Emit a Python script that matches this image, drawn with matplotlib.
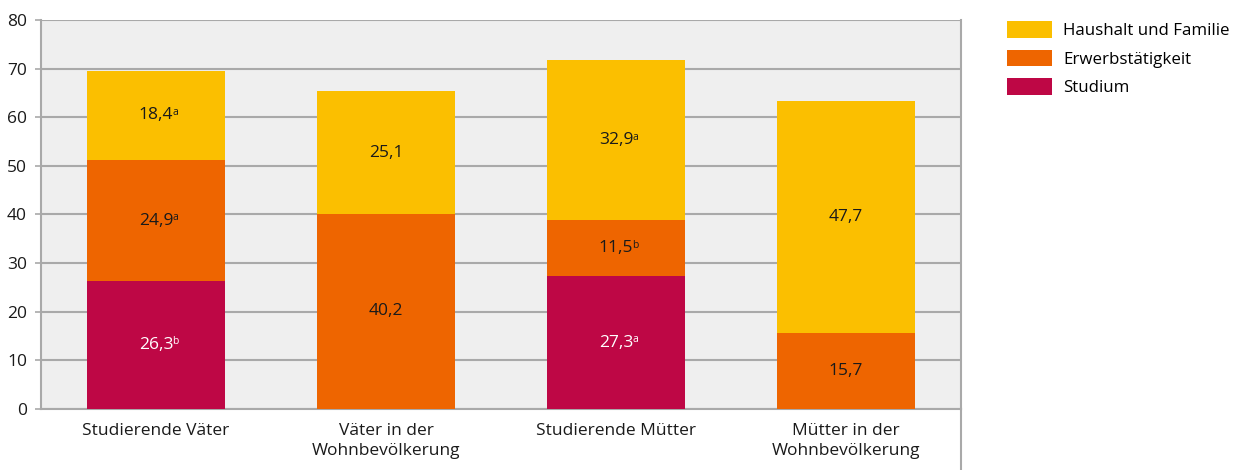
import matplotlib.pyplot as plt
from matplotlib.patches import Patch
from matplotlib.lines import Line2D
import numpy as np

plt.rcParams["font.family"] = ["Open Sans", "DejaVu Sans"]

# ---- data ----
categories = ["Studierende Väter", "Väter in der\nWohnbevölkerung",
              "Studierende Mütter", "Mütter in der\nWohnbevölkerung"]
studium = [26.3, 0.0, 27.3, 0.0]
erwerb = [24.9, 40.2, 11.5, 15.7]
haushalt = [18.4, 25.1, 32.9, 47.7]
sup_studium = ["b", "", "a", ""]
sup_erwerb = ["a", "", "b", ""]
sup_haushalt = ["a", "", "a", ""]

series_names = ["Studium", "Erwerbstätigkeit", "Haushalt und Familie"]
colors = ["#BE0745", "#EE6500", "#FBBF00"]
text_colors = ["white", "#1a1a1a", "#1a1a1a"]
grid_col = "#a9a9a9"

fig = plt.figure(figsize=(12.34, 4.70), dpi=100)
ax = fig.add_axes([41 / 1234, 1 - 409 / 470, 920 / 1234, 389 / 470])
ax.set_facecolor("#efefef")

x = np.arange(len(categories))
bottom = np.zeros(len(categories))
for vals, sups, col, tcol in zip([studium, erwerb, haushalt],
                                 [sup_studium, sup_erwerb, sup_haushalt],
                                 colors, text_colors):
    vals = np.array(vals)
    ax.bar(x, vals, 0.6, bottom=bottom, color=col, zorder=3)
    for xi, v, b, s in zip(x, vals, bottom, sups):
        if v <= 0:
            continue
        label = f"{v:.1f}".replace(".", ",")
        t = ax.text(xi, b + v / 2, label, ha="center", va="center",
                    fontsize=12.5, color=tcol, zorder=4)
        if s:
            ax.annotate(s, xy=(1, 1.0), xycoords=t, xytext=(-0.5, 0.5),
                        textcoords="offset points", ha="left", va="top",
                        fontsize=7.5, color=tcol, zorder=4)
    bottom += vals

ax.set_xlim(-0.5, 3.5)
ax.set_ylim(0, 80)
ax.set_yticks(range(0, 81, 10))
ax.set_xticks(x)
ax.set_xticklabels(categories, linespacing=1.35)
ax.tick_params(axis="x", length=0, pad=10, labelsize=12.5, labelcolor="#1a1a1a")
ax.tick_params(axis="y", length=4, width=1.2, color=grid_col, pad=6,
               labelsize=12.5, labelcolor="#1a1a1a")
ax.yaxis.grid(True, color=grid_col, linewidth=1.5, zorder=1)
ax.set_axisbelow(True)
for side in ["left", "right", "bottom", "top"]:
    ax.spines[side].set_color(grid_col)
    ax.spines[side].set_linewidth(1.5)
ax.spines["top"].set_visible(False)

# right border continues below the axes
fig.add_artist(Line2D([961 / 1234, 961 / 1234], [0, 1 - 409 / 470],
                      color=grid_col, linewidth=1.5))

handles = [Patch(facecolor=c, label=n) for c, n in zip(colors, series_names)]
handles = handles[::-1]
fig.legend(handles=handles, loc="upper left",
           bbox_to_anchor=(1007 / 1234, 1 - 21 / 470), frameon=False,
           fontsize=12.2, handlelength=2.65, handleheight=1.15,
           labelspacing=0.62, handletextpad=0.65, borderaxespad=0,
           borderpad=0)

fig.savefig("out.png", dpi=100)
